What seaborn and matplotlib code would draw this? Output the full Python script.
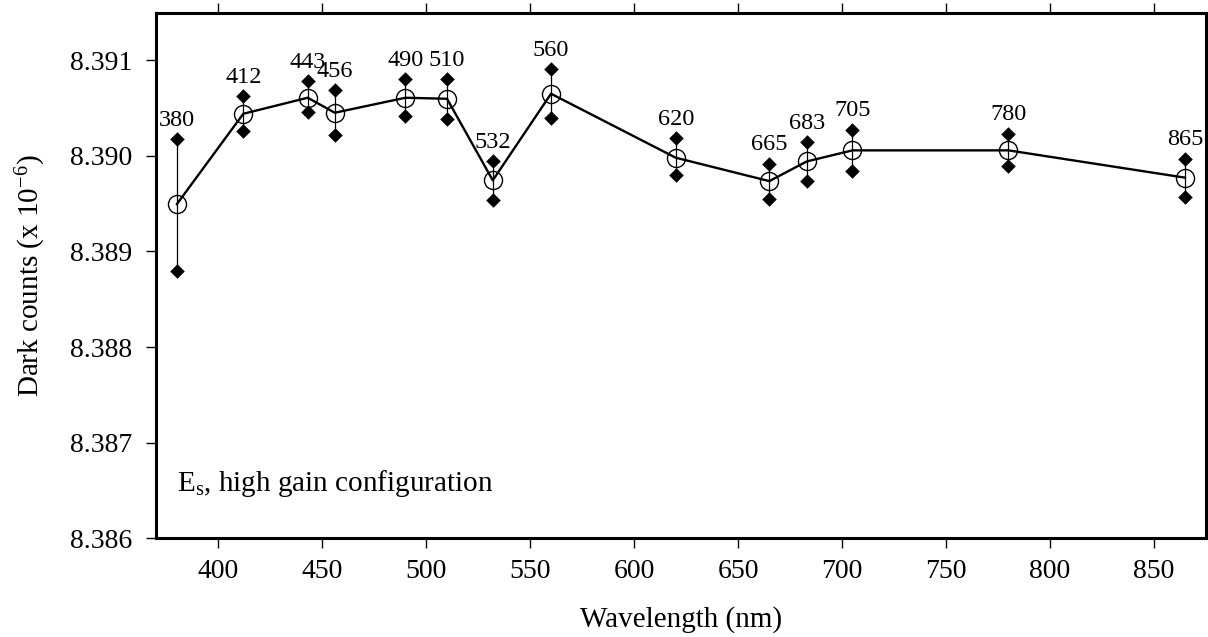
import numpy as np
import pandas as pd
import matplotlib
matplotlib.use("Agg")
import matplotlib.pyplot as plt
import seaborn as sns
from matplotlib.ticker import FixedLocator, FormatStrFormatter

# ---- data ----
wavelength = [380, 412, 443, 456, 490, 510, 532, 560, 620, 665, 683, 705, 780, 865]
mean_counts = [8.389494, 8.390442, 8.390610, 8.390453, 8.390610, 8.390599, 8.389745,
               8.390652, 8.389982, 8.389737, 8.389943, 8.390059, 8.390059, 8.389773]
upper_counts = [8.390174, 8.390627, 8.390784, 8.390686, 8.390801, 8.390801, 8.389947,
                8.390906, 8.390187, 8.389919, 8.390145, 8.390275, 8.390233, 8.389972]
lower_counts = [8.388793, 8.390261, 8.390459, 8.390215, 8.390414, 8.390390, 8.389543,
                8.390401, 8.389797, 8.389546, 8.389737, 8.389842, 8.389891, 8.389570]
point_labels = [str(w) for w in wavelength]
x_ticks = [400, 450, 500, 550, 600, 650, 700, 750, 800, 850]
y_ticks = [8.386, 8.387, 8.388, 8.389, 8.390, 8.391]

df = pd.DataFrame({"wl": wavelength, "mean": mean_counts,
                   "upper": upper_counts, "lower": lower_counts})

sns.set_style("ticks")
plt.rcParams["font.family"] = ["Liberation Serif", "DejaVu Serif"]
plt.rcParams["mathtext.fontset"] = "custom"
plt.rcParams["mathtext.rm"] = "Liberation Serif"
plt.rcParams["mathtext.it"] = "Liberation Serif:italic"
for key in ["text.color", "axes.labelcolor", "xtick.color", "ytick.color",
            "xtick.labelcolor", "ytick.labelcolor"]:
    plt.rcParams[key] = "black"

fig = plt.figure(figsize=(12.08, 6.37), dpi=100)
ax = fig.add_axes([0.1291, 0.1554, 0.8692, 0.8246])

# error bars (thin vertical lines)
ax.vlines(df["wl"], df["lower"], df["upper"], color="black", lw=0.9, zorder=2)

# connecting line with open circles
sns.lineplot(data=df, x="wl", y="mean", ax=ax, color="black", lw=1.7,
             marker="o", markersize=13, markerfacecolor="none",
             markeredgecolor="black", markeredgewidth=1.0, zorder=3)

# diamond end markers
sns.scatterplot(data=df, x="wl", y="upper", ax=ax, marker="D", s=55,
                color="black", edgecolor="black", linewidth=0, zorder=4)
sns.scatterplot(data=df, x="wl", y="lower", ax=ax, marker="D", s=55,
                color="black", edgecolor="black", linewidth=0, zorder=4)

# point labels
for w, u, lab in zip(wavelength, upper_counts, point_labels):
    ax.annotate(lab, (w, u), xytext=(0, 6), textcoords="offset points",
                ha="center", va="bottom", fontsize=17.5, color="black")

ax.text(0.02, 0.09, r"E$_\mathregular{s}$, high gain configuration",
        transform=ax.transAxes, fontsize=21, ha="left", va="baseline", color="black")

ax.set_xlim(370, 875)
ax.set_ylim(8.386, 8.3915)
ax.xaxis.set_major_locator(FixedLocator(x_ticks))
ax.yaxis.set_major_locator(FixedLocator(y_ticks))
ax.yaxis.set_major_formatter(FormatStrFormatter("%.3f"))

ax.set_xlabel("Wavelength (nm)", fontsize=21, labelpad=16, color="black")
ax.set_ylabel(r"Dark counts (x 10$^{\mathregular{-6}}$)", fontsize=21, labelpad=16,
              color="black")

for s in ax.spines.values():
    s.set_visible(True)
    s.set_linewidth(2.2)
    s.set_color("black")
ax.tick_params(axis="both", which="major", direction="out", length=7, width=1.0,
               labelsize=20, top=True, right=True, color="black", labelcolor="black")
ax.tick_params(axis="y", pad=10)
ax.tick_params(axis="x", pad=8)
ax.grid(False)

fig.savefig("out.png", dpi=100)
